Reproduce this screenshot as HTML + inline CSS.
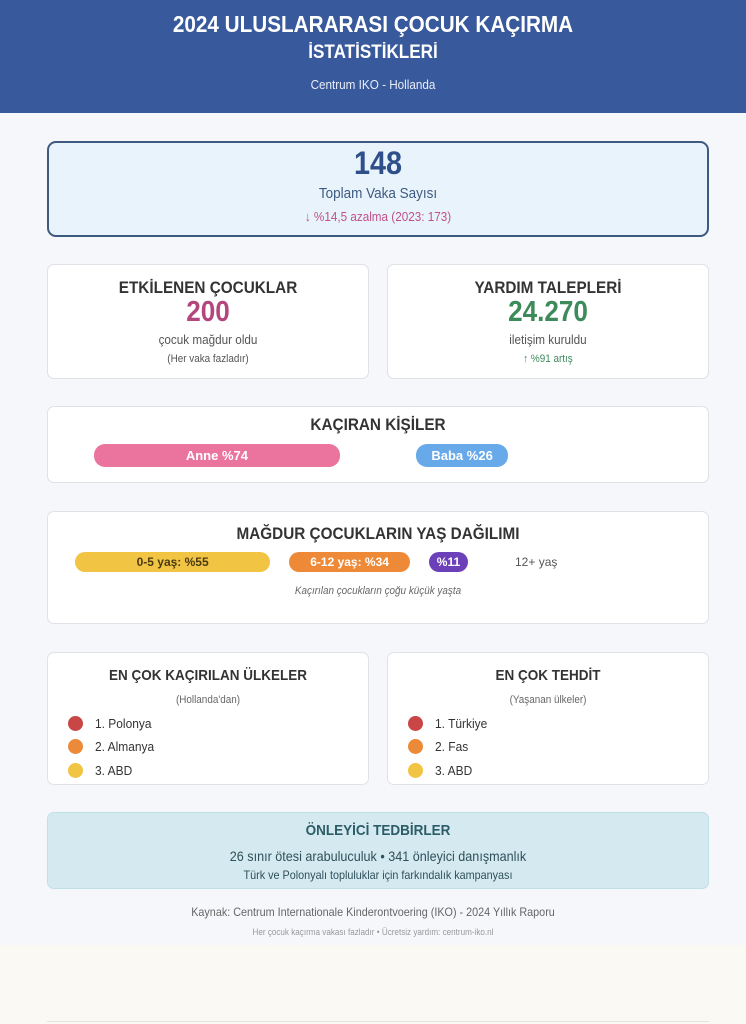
<!DOCTYPE html>
<html><head><meta charset="utf-8">
<style>
*{margin:0;padding:0;box-sizing:border-box}
body{width:746px;height:1024px;position:relative;overflow:hidden;background:#fbf9f4;font-family:"Liberation Sans",sans-serif;}
.abs{position:absolute}
.card{position:absolute;background:#fff;border:1px solid #dfe2e6;border-radius:7px}
.t{position:absolute;left:0;right:0;text-align:center;white-space:nowrap;transform:scaleX(0.9);transform-origin:center}
.pill{position:absolute;border-radius:11px;color:#fff;font-weight:bold;font-size:13px;text-align:center;line-height:23px;white-space:nowrap}
.dot{position:absolute;width:15px;height:15px;border-radius:50%}
.li{position:absolute;font-size:13px;color:#333;transform:scaleX(0.92);transform-origin:left}
</style></head><body>
<div class="abs" style="left:0;top:113px;width:746px;height:832px;background:#f5f7fa"></div>
<div class="abs" style="left:0;top:0;width:746px;height:113px;background:#38599b">
 <div class="t" style="top:11px;font-size:23px;font-weight:bold;color:#fff">2024 ULUSLARARASI ÇOCUK KAÇIRMA</div>
 <div class="t" style="top:42px;font-size:19px;font-weight:bold;color:#fff">İSTATİSTİKLERİ</div>
 <div class="t" style="top:77px;font-size:13px;color:#e8eef8">Centrum IKO - Hollanda</div>
</div>

<div class="abs" style="left:47px;top:141px;width:662px;height:96px;background:#e9f3fc;border:2px solid #3e5a80;border-radius:9px">
 <div class="t" style="top:2px;font-size:32px;font-weight:bold;color:#2f4f8a">148</div>
 <div class="t" style="top:42px;font-size:15px;color:#3e5a80">Toplam Vaka Sayısı</div>
 <div class="t" style="top:66px;font-size:13px;color:#c0508a">↓ %14,5 azalma (2023: 173)</div>
</div>

<div class="card" style="left:47px;top:264px;width:322px;height:115px">
 <div class="t" style="top:13px;font-size:17px;font-weight:bold;color:#333">ETKİLENEN ÇOCUKLAR</div>
 <div class="t" style="top:31px;font-size:29px;font-weight:bold;color:#b4467e">200</div>
 <div class="t" style="top:67px;font-size:13px;color:#555">çocuk mağdur oldu</div>
 <div class="t" style="top:88px;font-size:11px;color:#555">(Her vaka fazladır)</div>
</div>
<div class="card" style="left:387px;top:264px;width:322px;height:115px">
 <div class="t" style="top:13px;font-size:17px;font-weight:bold;color:#333">YARDIM TALEPLERİ</div>
 <div class="t" style="top:31px;font-size:29px;font-weight:bold;color:#3d8a5a">24.270</div>
 <div class="t" style="top:67px;font-size:13px;color:#555">iletişim kuruldu</div>
 <div class="t" style="top:88px;font-size:11px;color:#3d8a5a">↑ %91 artış</div>
</div>

<div class="card" style="left:47px;top:406px;width:662px;height:77px">
 <div class="t" style="top:8px;font-size:17px;font-weight:bold;color:#333">KAÇIRAN KİŞİLER</div>
 <div id="parentBars"></div>
</div>

<div class="card" style="left:47px;top:511px;width:662px;height:113px">
 <div class="t" style="top:12px;font-size:17px;font-weight:bold;color:#333">MAĞDUR ÇOCUKLARIN YAŞ DAĞILIMI</div>
 <div id="ageBars"></div>
 <div class="t" style="top:73px;font-size:11px;font-style:italic;color:#666">Kaçırılan çocukların çoğu küçük yaşta</div>
</div>

<div class="card" style="left:47px;top:652px;width:322px;height:133px">
 <div class="t" style="top:14px;font-size:15px;font-weight:bold;color:#333">EN ÇOK KAÇIRILAN ÜLKELER</div>
 <div class="t" style="top:41px;font-size:11px;color:#666">(Hollanda'dan)</div>
 <div class="dot" style="left:20px;top:63px;background:#c94646"></div><div class="li" style="left:47px;top:63px">1. Polonya</div>
 <div class="dot" style="left:20px;top:86px;background:#ec8a3a"></div><div class="li" style="left:47px;top:86px">2. Almanya</div>
 <div class="dot" style="left:20px;top:110px;background:#f2c443"></div><div class="li" style="left:47px;top:110px">3. ABD</div>
</div>
<div class="card" style="left:387px;top:652px;width:322px;height:133px">
 <div class="t" style="top:14px;font-size:15px;font-weight:bold;color:#333">EN ÇOK TEHDİT</div>
 <div class="t" style="top:41px;font-size:11px;color:#666">(Yaşanan ülkeler)</div>
 <div class="dot" style="left:20px;top:63px;background:#c94646"></div><div class="li" style="left:47px;top:63px">1. Türkiye</div>
 <div class="dot" style="left:20px;top:86px;background:#ec8a3a"></div><div class="li" style="left:47px;top:86px">2. Fas</div>
 <div class="dot" style="left:20px;top:110px;background:#f2c443"></div><div class="li" style="left:47px;top:110px">3. ABD</div>
</div>

<div class="abs" style="left:47px;top:812px;width:662px;height:77px;background:#d5eaf0;border:1px solid #c0dfe7;border-radius:7px">
 <div class="t" style="top:9px;font-size:15px;font-weight:bold;color:#2b5c68">ÖNLEYİCİ TEDBİRLER</div>
 <div class="t" style="top:35px;font-size:14px;color:#2f4f5a">26 sınır ötesi arabuluculuk • 341 önleyici danışmanlık</div>
 <div class="t" style="top:55px;font-size:12px;color:#2f4f5a">Türk ve Polonyalı topluluklar için farkındalık kampanyası</div>
</div>

<div class="t" style="top:905px;font-size:12px;color:#666">Kaynak: Centrum Internationale Kinderontvoering (IKO) - 2024 Yıllık Raporu</div>
<div class="t" style="top:927px;font-size:9px;color:#999">Her çocuk kaçırma vakası fazladır • Ücretsiz yardım: centrum-iko.nl</div>
<div class="abs" style="left:47px;top:1021px;width:662px;height:3px;border-top:1px solid #e6e4de"></div>

<script>
const parentLabels=["Anne","Baba"];
const parentValues=[74,26];
const parentColors=["#ea749e","#68a9e9"];
const ageLabels=["0-5 yaş: ","6-12 yaş: ",""];
const ageValues=[55,34,11];
const ageColors=["#f2c443","#ee8a37","#6b40b8"];

const pb=document.getElementById('parentBars');
const pScale=3.2, pPad=9, pStarts=[46,368];
parentValues.forEach((v,i)=>{
 const d=document.createElement('div');
 d.className='pill';
 
 
 d.style.left=pStarts[i]+'px';d.style.top='37px';d.style.height='23px';
 d.style.width=(v*pScale+pPad)+'px';d.style.background=parentColors[i];
 d.textContent=parentLabels[i]+' %'+v;
 pb.appendChild(d);
});

const ab=document.getElementById('ageBars');
const aScale=3.55;let x=27;
ageValues.forEach((v,i)=>{
 const d=document.createElement('div');
 d.className='pill';
 
 
 d.style.left=x+'px';d.style.top='40px';d.style.height='20px';d.style.lineHeight='20px';d.style.fontSize='12px';
 d.style.width=(v*aScale)+'px';d.style.background=ageColors[i];
 if(i===0)d.style.color='#4a3a10';
 d.textContent=ageLabels[i]+'%'+v;
 ab.appendChild(d);
 x+=v*aScale+19;
});
const l=document.createElement('div');


l.className='abs';l.style.left=(x+28)+'px';l.style.top='43px';l.style.fontSize='12px';l.style.color='#555';
l.textContent='12+ yaş';
ab.appendChild(l);
</script>
</body></html>
